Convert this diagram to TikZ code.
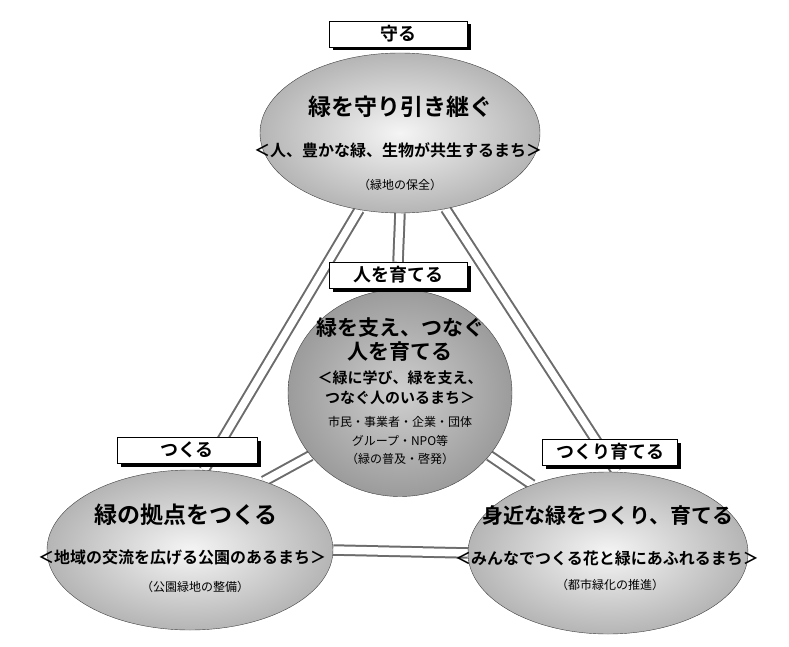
\documentclass[tikz,border=0pt]{standalone}
\usepackage{fontspec}
\setmainfont{Noto Sans CJK JP}[BoldFont={Noto Sans CJK JP Bold}]
\usetikzlibrary{shapes.geometric,shadows,backgrounds}

\pgfdeclareradialshading{zonefade}{\pgfpoint{0bp}{0bp}}{color(0bp)=(gray!8); color(25bp)=(gray!58); color(50bp)=(gray!58)}
\pgfdeclareradialshading{hubfade}{\pgfpoint{0bp}{0bp}}{color(0bp)=(gray!38); color(25bp)=(gray!78); color(50bp)=(gray!78)}

\begin{document}
\begin{tikzpicture}[x=1pt,y=-1pt,
zone/.style = {ellipse, inner sep=0pt,
     draw=gray!50!black, thin,
     shade, shading=zonefade},
hub zone/.style = {ellipse, inner sep=0pt,
     draw=gray!50!black, thin,
     shade, shading=hubfade},
tag box/.style = {rectangle, draw, thin, fill=white,
     minimum width=138pt, minimum height=26pt, inner sep=0pt,
     font=\fontsize{18}{20}\selectfont\bfseries,
     drop shadow={shadow xshift=3.5pt, shadow yshift=-3.5pt, fill=black, opacity=1}},
link/.style = {draw=gray!85!black, line width=2pt,
     double=white, double distance=7.5pt},
headline/.style = {inner sep=0pt, font=\fontsize{23}{26}\selectfont\bfseries},
motto/.style = {inner sep=0pt, font=\fontsize{16}{18}\selectfont\bfseries},
note/.style = {inner sep=0pt, font=\fontsize{12}{14}\selectfont}]

\useasboundingbox (0,0) rectangle (789,647);

\node[zone, minimum width=280pt, minimum height=160pt] (keep) at (400,133) {};
\node[zone, minimum width=286pt, minimum height=160pt] (make) at (190,550) {};
\node[zone, minimum width=280pt, minimum height=162pt] (grow) at (608,553) {};
\node[hub zone, minimum width=224pt, minimum height=207pt] (hub) at (400,393) {};

\node[tag box] (keep tag) at (398,34) {守る};
\node[tag box] (hub tag) at (398,275) {人を育てる};
\node[tag box, minimum width=140pt] (make tag) at (187,450) {つくる};
\node[tag box, minimum width=135pt] (grow tag) at (610,452) {つくり育てる};

\begin{scope}[on background layer]
\foreach \a/\b in {keep.242/make.80, keep.301/grow.84, keep.south/hub tag.north,
    hub.215/make.43, hub.325/grow.138, make.east/grow.west} {
      \draw[link] (\a) -- (\b);
    }
\end{scope}

\node[headline] (keep title) at (400,107) {緑を守り引き継ぐ};
\node[motto] (keep motto) at (398,150) {＜人、豊かな緑、生物が共生するまち＞};
\node[note] (keep note) at (400,185) {（緑地の保全）};

\node[headline, font=\fontsize{21}{24}\selectfont\bfseries] (hub title) at (400,340)
    [align=center] {緑を支え、つなぐ\\人を育てる};
\node[motto, font=\fontsize{15}{20}\selectfont\bfseries, align=center] (hub motto) at (400,388)
    {＜緑に学び、緑を支え、\\つなぐ人のいるまち＞};
\node[note, font=\fontsize{12}{18.5}\selectfont, align=center] (hub note) at (400,441)
    {市民・事業者・企業・団体\\グループ・NPO等\\（緑の普及・啓発）};

\node[headline] (make title) at (186,515) {緑の拠点をつくる};
\node[motto] (make motto) at (182,557) {＜地域の交流を広げる公園のあるまち＞};
\node[note] (make note) at (195,587) {（公園緑地の整備）};

\node[headline, font=\fontsize{21}{24}\selectfont\bfseries] (grow title) at (608,515) {身近な緑をつくり、育てる};
\node[motto] (grow motto) at (607,558) {＜みんなでつくる花と緑にあふれるまち＞};
\node[note] (grow note) at (610,585) {（都市緑化の推進）};

\end{tikzpicture}
\end{document}
